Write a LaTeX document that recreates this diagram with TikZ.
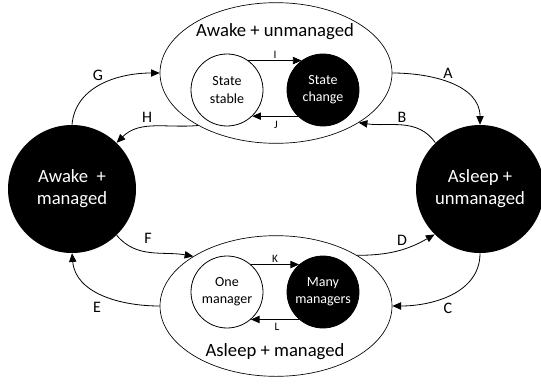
\documentclass[tikz,border=0pt]{standalone}
\usepackage{fontspec}
\setmainfont{Carlito}
\usetikzlibrary{shapes.geometric,arrows.meta}
\begin{document}
\begin{tikzpicture}[x=0.75pt,y=0.75pt,
  outer/.style={draw,ellipse,minimum width=174pt,minimum height=105.5pt,inner sep=0pt,line width=0.5pt},
  innerc/.style={circle,draw,minimum size=54pt,inner sep=0pt,align=center,font=\fontsize{10.5}{12.8}\selectfont,line width=0.6pt},
  blk/.style={fill=black,text=white},
  big/.style={circle,fill=black,text=white,minimum size=96pt,inner sep=0pt,align=center,font=\fontsize{14}{16.5}\selectfont},
  arr/.style={-{Triangle[length=6.5pt,width=5.5pt]},line width=0.6pt},
  lab/.style={font=\fontsize{12}{14}\selectfont},
  slab/.style={font=\fontsize{8.5}{10}\selectfont,inner sep=1pt},
  title/.style={font=\fontsize{14}{17}\selectfont,anchor=base}]
\useasboundingbox (0,0) rectangle (541,386);
% outer ellipses
\node[outer] (top) at (276,313) {};
\node[outer] (bot) at (276,80) {};
\node[title] (ttl) at (275,349) {Awake + unmanaged};
\node[title] (btl) at (275,30) {Asleep + managed};
% inner circles
\node[innerc] (stable) at (227,296) {State\\stable};
\node[innerc,blk] (change) at (323,296) {State\\change};
\node[innerc] (one) at (227,94) {One\\manager};
\node[innerc,blk] (many) at (323,94) {Many\\managers};
% big circles
\node[big] (left) at (72,197) {Awake\ \ +\\managed};
\node[big] (right) at (480,197) {Asleep +\\unmanaged};
% inner arrows
\draw[arr] (stable.54) -- (change.126);
\draw[arr] (change.-134) -- (stable.-46);
\draw[arr] (one.49) -- (many.131);
\draw[arr] (many.-131) -- (one.-49);
\node[slab] (li) at (275,331) {I};
\node[slab] (lj) at (276,261) {J};
\node[slab] (lk) at (275,127) {K};
\node[slab] (ll) at (277,59) {L};
% outer arrows
\draw[arr] (top.east) to[out=0,in=90] (right.north);
\draw[arr] (right.134) to[out=125,in=-8] (top.329);
\draw[arr] (top.214) to[out=185,in=45] (left.46);
\draw[arr] (left.90) to[out=85,in=180] (top.west);
\draw[arr] (left.314) to[out=-50,in=170] (bot.149.5);
\draw[arr] (bot.west) to[out=180,in=-85] (left.south);
\draw[arr] (bot.32) to[out=0,in=210] (right.225);
\draw[arr] (right.south) to[out=-90,in=0] (bot.east);
% labels
\node[lab] (la) at (448,313) {A};
\node[lab] (lb) at (402,269) {B};
\node[lab] (lc) at (448,78) {C};
\node[lab] (ld) at (402,146) {D};
\node[lab] (le) at (97,79) {E};
\node[lab] (lf) at (148,148) {F};
\node[lab] (lg) at (98,311) {G};
\node[lab] (lh) at (147,269) {H};
\end{tikzpicture}
\end{document}
